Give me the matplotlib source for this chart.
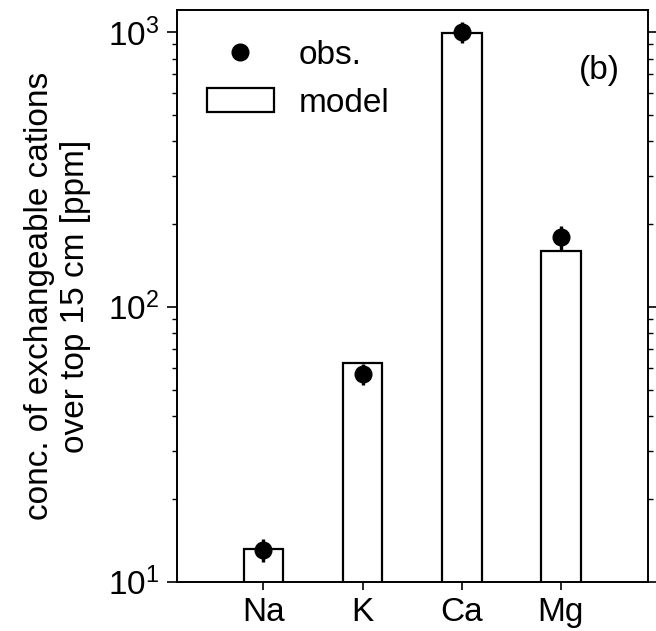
import numpy as np
import matplotlib.pyplot as plt
from matplotlib.lines import Line2D
from matplotlib.patches import Patch

plt.rcParams['font.family'] = ['Liberation Sans', 'DejaVu Sans']
plt.rcParams['mathtext.fontset'] = 'custom'
plt.rcParams['mathtext.rm'] = 'Liberation Sans'

cations = ['Na', 'K', 'Ca', 'Mg']
model = [13.2, 62.7, 990, 159]
obs = [13.1, 57.0, 1000, 179]
obs_err = [1.25, 5.0, 90, 17.5]

fig = plt.figure(figsize=(6.56, 6.31), dpi=100)
ax = fig.add_axes([0.270, 0.078, 0.718, 0.906])

x = np.arange(1, len(cations) + 1)
ax.bar(x, model, width=0.4, color='white', edgecolor='black', linewidth=1.6,
       zorder=2)
ax.errorbar(x, obs, yerr=obs_err, fmt='o', color='black', markersize=12,
            elinewidth=2.4, capsize=0, zorder=3)

ax.set_yscale('log')
ax.set_ylim(10, 1200)
ax.set_xlim(0.13, 4.88)
ax.set_xticks(x)
ax.set_xticklabels(cations)

ax.tick_params(axis='both', which='major', labelsize=24, direction='out', width=1.2)
ax.tick_params(axis='y', which='major', length=7, pad=6, left=True, right=True)
ax.tick_params(axis='y', which='minor', length=3.5, width=1.0, left=True, right=True)
ax.tick_params(axis='x', which='major', length=6, pad=5)
for s in ax.spines.values():
    s.set_linewidth(1.4)

ax.set_ylabel('conc. of exchangeable cations\nover top 15 cm [ppm]', fontsize=24,
              labelpad=12)

handles = [Line2D([], [], marker='o', color='black', linestyle='none', markersize=12),
           Patch(facecolor='white', edgecolor='black', linewidth=1.6)]
ax.legend(handles, ['obs.', 'model'], loc='upper left', frameon=False,
          fontsize=24, handlelength=2.0, handletextpad=0.75, labelspacing=0.5,
          borderaxespad=0.5)

ax.text(0.94, 0.895, '(b)', transform=ax.transAxes, ha='right', va='center',
        fontsize=24)

fig.savefig('out.png', dpi=100)
